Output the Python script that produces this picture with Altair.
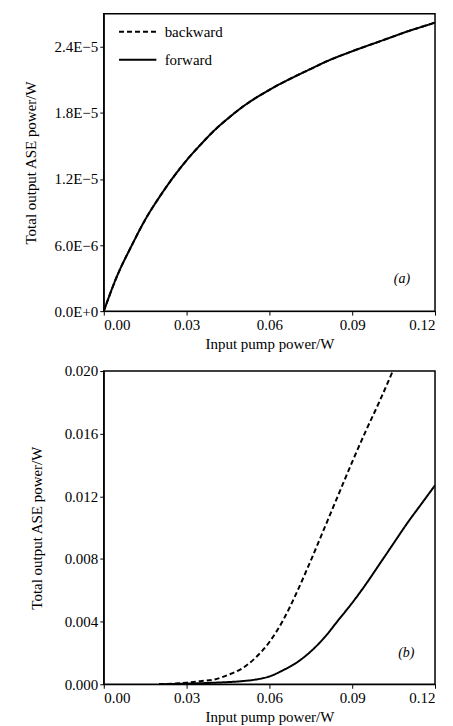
import altair as alt
import pandas as pd

# ---------------- data ----------------
# panel (a)
a_x = [0, 0.005, 0.01, 0.015, 0.02, 0.025, 0.03, 0.035, 0.04, 0.045, 0.05,
       0.06, 0.07, 0.075, 0.08, 0.09, 0.1, 0.105, 0.11, 0.115, 0.12]
a_forward = [0, 3.3e-6, 5.9e-6, 8.3e-6, 10.3e-6, 12.1e-6, 13.7e-6, 15.1e-6,
             16.4e-6, 17.5e-6, 18.5e-6, 20.1e-6, 21.4e-6, 22.0e-6, 22.6e-6,
             23.6e-6, 24.5e-6, 24.95e-6, 25.4e-6, 25.8e-6, 26.2e-6]
a_backward = [0, 3.3e-6, 5.9e-6, 8.3e-6, 10.3e-6, 12.1e-6, 13.7e-6, 15.1e-6,
              16.4e-6, 17.5e-6, 18.5e-6, 20.1e-6, 21.4e-6, 22.0e-6, 22.6e-6,
              23.6e-6, 24.5e-6, 24.95e-6, 25.4e-6, 25.8e-6, 26.2e-6]

# panel (b)
b_fx = [0.02, 0.03, 0.04, 0.05, 0.055, 0.06, 0.065, 0.07, 0.075, 0.08, 0.085,
        0.09, 0.095, 0.1, 0.105, 0.11, 0.115, 0.12]
b_forward = [0, 0.00004, 0.0001, 0.0002, 0.0003, 0.0005, 0.0009, 0.0014,
             0.0021, 0.0030, 0.0041, 0.0052, 0.0064, 0.0077, 0.0090, 0.0103,
             0.0115, 0.0127]
b_bx = [0.02, 0.03, 0.035, 0.04, 0.045, 0.05, 0.055, 0.06, 0.065, 0.07, 0.075,
        0.08, 0.085, 0.09, 0.095, 0.1, 0.1047]
b_backward = [0, 0.0001, 0.0002, 0.0003, 0.0006, 0.0010, 0.0017, 0.0027,
              0.0041, 0.0059, 0.0079, 0.0100, 0.0121, 0.0142, 0.0162, 0.0181,
              0.0200]

x_ticks = [0, 0.03, 0.06, 0.09, 0.12]
a_ticks = [0, 6e-6, 1.2e-5, 1.8e-5, 2.4e-5]
a_labels = ["0.0E+0", "6.0E−6", "1.2E−5", "1.8E−5", "2.4E−5"]
b_ticks = [0, 0.004, 0.008, 0.012, 0.016, 0.020]
b_labels = ["0.000", "0.004", "0.008", "0.012", "0.016", "0.020"]
series = ["backward", "forward"]

panel_a_tag = {"x": 0.108, "y": 2.9e-6, "t": "(a)"}
panel_b_tag = {"x": 0.1096, "y": 0.00197, "t": "(b)"}

FONT = "Liberation Serif"


def label_expr(ticks, labels, tol):
    expr = "''"
    for t, l in reversed(list(zip(ticks, labels))):
        expr = f"abs(datum.value - ({t})) < {tol} ? '{l}' : ({expr})"
    return expr


def panel(xf, yf, xb, yb, yticks, ylabels, ydom, tag, w, h, tol, ly, tpad):
    df = pd.concat([
        pd.DataFrame({"x": xb, "y": yb, "series": "backward"}),
        pd.DataFrame({"x": xf, "y": yf, "series": "forward"}),
    ])
    x_enc = alt.X("x:Q", scale=alt.Scale(domain=[0, 0.12], nice=False, zero=False),
                  axis=alt.Axis(values=x_ticks, format=".2f",
                                title="Input pump power/W"))
    y_enc = alt.Y("y:Q", scale=alt.Scale(domain=ydom, nice=False),
                  axis=alt.Axis(values=yticks,
                                labelExpr=label_expr(yticks, ylabels, tol),
                                title="Total output ASE power/W",
                                titlePadding=tpad))
    lines = alt.Chart(df).mark_line(color="black", strokeWidth=2, clip=True,
                                    interpolate="monotone").encode(
        x=x_enc, y=y_enc,
        strokeDash=alt.StrokeDash(
            "series:N",
            scale=alt.Scale(domain=series, range=[[5, 3], [1, 0]]),
            legend=alt.Legend(title=None, orient="none", legendX=14, legendY=ly,
                              symbolType="stroke",
                              symbolSize=1400, symbolStrokeColor="black",
                              symbolStrokeWidth=2, labelFontSize=15,
                              labelFont=FONT, rowPadding=-16, labelOffset=7,
                              labelColor="black"),
        ),
        order="x:Q",
    )
    tag_df = pd.DataFrame([tag])
    text = alt.Chart(tag_df).mark_text(font=FONT, fontSize=14, fontStyle="italic",
                                       color="black").encode(
        x="x:Q", y="y:Q", text="t:N")
    return (lines + text).properties(width=w, height=h)


top = panel(a_x, a_forward, a_x, a_backward, a_ticks, a_labels, [0, 2.7e-5],
            panel_a_tag, 332, 298, 1e-9, -2, 16)
bottom = panel(b_fx, b_forward, b_bx, b_backward, b_ticks, b_labels, [0, 0.02],
               panel_b_tag, 332, 314, 1e-6, 6, 20)

chart = alt.vconcat(top, bottom, spacing=11).properties(
    padding={"left": 14, "top": 3, "right": 8, "bottom": 0}
).configure_view(stroke="black", strokeWidth=1.5).configure_axis(
    labelFont=FONT, titleFont=FONT, labelFontSize=15, titleFontSize=15,
    titleFontWeight="normal", labelColor="black", titleColor="black",
    domainColor="black", tickColor="black", tickSize=4, grid=False,
    labelPadding=2,
)

chart.save("out.html", embed_options={"renderer": "svg", "actions": False})
